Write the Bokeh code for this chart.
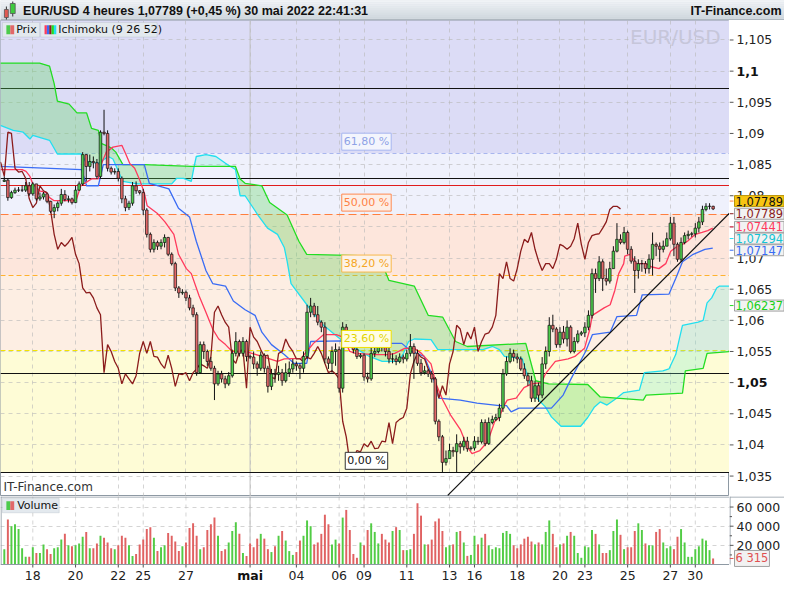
from bokeh.plotting import figure
from bokeh.layouts import column, row
from bokeh.models import (Range1d, FixedTicker, Label, BoxAnnotation, Span, ColumnDataSource)
from bokeh.core.properties import value
from bokeh.embed import file_html
from bokeh.resources import INLINE

# ------------------------------------------------------------------ data
TITLE = "EUR/USD 4 heures 1,07789 (+0,45 %) 30 mai 2022 22:41:31"
OPEN_FIRST = 1.0823
CLOSE = [
    1.0825, 1.0797, 1.0805, 1.0809, 1.0809, 1.0809, 1.0816, 1.0803, 1.0819, 1.0795,
    1.0798, 1.0803, 1.0791, 1.0775, 1.0781, 1.0788, 1.0802, 1.0794, 1.0795, 1.0789,
    1.0809, 1.0819, 1.0866, 1.0847, 1.0855, 1.0853, 1.0831, 1.0902, 1.0900, 1.0844,
    1.0838, 1.0839, 1.0828, 1.0795, 1.0781, 1.0788, 1.0816, 1.0808, 1.0805, 1.0777,
    1.0738, 1.0714, 1.0725, 1.0719, 1.0725, 1.0733, 1.0706, 1.0691, 1.0652, 1.0644,
    1.0645, 1.0636, 1.0620, 1.0609, 1.0516, 1.0561, 1.0550, 1.0534, 1.0523, 1.0498,
    1.0514, 1.0506, 1.0498, 1.0511, 1.0547, 1.0566, 1.0547, 1.0566, 1.0542, 1.0541,
    1.0530, 1.0523, 1.0544, 1.0523, 1.0494, 1.0514, 1.0513, 1.0516, 1.0503, 1.0516,
    1.0522, 1.0530, 1.0527, 1.0523, 1.0542, 1.0613, 1.0623, 1.0609, 1.0597, 1.0589,
    1.0538, 1.0531, 1.0550, 1.0553, 1.0491, 1.0589, 1.0573, 1.0566, 1.0553, 1.0542,
    1.0544, 1.0509, 1.0506, 1.0547, 1.0550, 1.0570, 1.0558, 1.0550, 1.0538, 1.0538,
    1.0534, 1.0541, 1.0538, 1.0547, 1.0558, 1.0547, 1.0531, 1.0516, 1.0519, 1.0514,
    1.0506, 1.0438, 1.0413, 1.0372, 1.0378, 1.0391, 1.0389, 1.0402, 1.0397, 1.0406,
    1.0394, 1.0395, 1.0406, 1.0405, 1.0436, 1.0402, 1.0436, 1.0441, 1.0444, 1.0459,
    1.0514, 1.0534, 1.0547, 1.0541, 1.0538, 1.0522, 1.0511, 1.0503, 1.0475, 1.0495,
    1.0480, 1.0530, 1.0550, 1.0592, 1.0586, 1.0561, 1.0581, 1.0570, 1.0589, 1.0550,
    1.0566, 1.0578, 1.0580, 1.0589, 1.0608, 1.0675, 1.0667, 1.0694, 1.0667, 1.0663,
    1.0683, 1.0711, 1.0730, 1.0725, 1.0741, 1.0714, 1.0695, 1.0680, 1.0691, 1.0691,
    1.0683, 1.0698, 1.0722, 1.0719, 1.0714, 1.0719, 1.0731, 1.0756, 1.0722, 1.0698,
    1.0725, 1.0736, 1.0738, 1.0739, 1.0748, 1.0758, 1.0778, 1.0783, 1.0783, 1.07789,
]
HIGH = [
    1.0831, 1.0828, 1.0808, 1.0813, 1.0814, 1.0817, 1.0822, 1.0822, 1.0822, 1.0819,
    1.0805, 1.0806, 1.0803, 1.0792, 1.0786, 1.0791, 1.0811, 1.0809, 1.0800, 1.0797,
    1.0816, 1.0823, 1.0870, 1.0867, 1.0866, 1.0863, 1.0859, 1.0905, 1.0938, 1.0905,
    1.0847, 1.0844, 1.0844, 1.0831, 1.0800, 1.0792, 1.0822, 1.0823, 1.0809, 1.0811,
    1.0780, 1.0741, 1.0730, 1.0728, 1.0730, 1.0738, 1.0734, 1.0709, 1.0694, 1.0655,
    1.0650, 1.0648, 1.0641, 1.0625, 1.0613, 1.0566, 1.0566, 1.0553, 1.0541, 1.0527,
    1.0519, 1.0519, 1.0511, 1.0517, 1.0553, 1.0581, 1.0569, 1.0573, 1.0569, 1.0545,
    1.0550, 1.0534, 1.0550, 1.0547, 1.0527, 1.0522, 1.0522, 1.0527, 1.0522, 1.0531,
    1.0534, 1.0538, 1.0534, 1.0531, 1.0550, 1.0625, 1.0636, 1.0628, 1.0623, 1.0600,
    1.0597, 1.0542, 1.0558, 1.0563, 1.0558, 1.0597, 1.0594, 1.0581, 1.0573, 1.0558,
    1.0547, 1.0547, 1.0516, 1.0558, 1.0556, 1.0581, 1.0573, 1.0566, 1.0558, 1.0547,
    1.0544, 1.0547, 1.0545, 1.0553, 1.0578, 1.0563, 1.0553, 1.0538, 1.0527, 1.0522,
    1.0519, 1.0509, 1.0441, 1.0416, 1.0391, 1.0402, 1.0397, 1.0417, 1.0406, 1.0413,
    1.0413, 1.0398, 1.0414, 1.0413, 1.0441, 1.0441, 1.0444, 1.0447, 1.0450, 1.0466,
    1.0522, 1.0542, 1.0555, 1.0553, 1.0547, 1.0542, 1.0531, 1.0516, 1.0511, 1.0503,
    1.0500, 1.0541, 1.0558, 1.0605, 1.0609, 1.0589, 1.0589, 1.0591, 1.0600, 1.0592,
    1.0573, 1.0584, 1.0583, 1.0597, 1.0616, 1.0683, 1.0683, 1.0703, 1.0698, 1.0683,
    1.0694, 1.0719, 1.0756, 1.0738, 1.0750, 1.0744, 1.0719, 1.0703, 1.0698, 1.0697,
    1.0695, 1.0706, 1.0741, 1.0725, 1.0725, 1.0728, 1.0741, 1.0766, 1.0766, 1.0725,
    1.0733, 1.0741, 1.0744, 1.0742, 1.0756, 1.0766, 1.0784, 1.0788, 1.0788, 1.0784,
]
LOW = [
    1.0822, 1.0792, 1.0795, 1.0803, 1.0806, 1.0806, 1.0806, 1.0800, 1.0800, 1.0792,
    1.0792, 1.0794, 1.0788, 1.0772, 1.0764, 1.0775, 1.0784, 1.0791, 1.0789, 1.0786,
    1.0788, 1.0808, 1.0816, 1.0823, 1.0839, 1.0844, 1.0827, 1.0827, 1.0897, 1.0839,
    1.0834, 1.0834, 1.0823, 1.0788, 1.0775, 1.0777, 1.0784, 1.0803, 1.0802, 1.0769,
    1.0733, 1.0709, 1.0709, 1.0713, 1.0714, 1.0717, 1.0703, 1.0688, 1.0647, 1.0636,
    1.0641, 1.0631, 1.0616, 1.0605, 1.0511, 1.0514, 1.0538, 1.0527, 1.0519, 1.0472,
    1.0495, 1.0500, 1.0491, 1.0495, 1.0508, 1.0542, 1.0542, 1.0542, 1.0534, 1.0538,
    1.0522, 1.0511, 1.0519, 1.0516, 1.0484, 1.0488, 1.0500, 1.0503, 1.0495, 1.0500,
    1.0509, 1.0516, 1.0519, 1.0506, 1.0516, 1.0538, 1.0605, 1.0605, 1.0592, 1.0581,
    1.0531, 1.0522, 1.0516, 1.0527, 1.0484, 1.0484, 1.0569, 1.0558, 1.0547, 1.0538,
    1.0539, 1.0503, 1.0500, 1.0503, 1.0541, 1.0547, 1.0550, 1.0542, 1.0531, 1.0531,
    1.0528, 1.0531, 1.0531, 1.0534, 1.0542, 1.0506, 1.0527, 1.0511, 1.0513, 1.0509,
    1.0500, 1.0433, 1.0406, 1.0355, 1.0367, 1.0378, 1.0381, 1.0355, 1.0386, 1.0391,
    1.0389, 1.0391, 1.0391, 1.0400, 1.0402, 1.0398, 1.0400, 1.0433, 1.0438, 1.0438,
    1.0453, 1.0511, 1.0531, 1.0534, 1.0531, 1.0519, 1.0506, 1.0495, 1.0469, 1.0469,
    1.0469, 1.0475, 1.0522, 1.0542, 1.0581, 1.0556, 1.0556, 1.0563, 1.0558, 1.0547,
    1.0547, 1.0563, 1.0575, 1.0573, 1.0584, 1.0603, 1.0644, 1.0663, 1.0647, 1.0656,
    1.0659, 1.0683, 1.0709, 1.0722, 1.0722, 1.0706, 1.0691, 1.0644, 1.0667, 1.0678,
    1.0675, 1.0675, 1.0672, 1.0703, 1.0694, 1.0709, 1.0719, 1.0728, 1.0703, 1.0694,
    1.0694, 1.0722, 1.0730, 1.0734, 1.0733, 1.0741, 1.0753, 1.0775, 1.0778, 1.0777,
]
VOLUME_K = [
    16, 47, 40, 42, 37, 17, 8, 8, 18, 12, 12, 21, 16, 11, 17, 18, 26, 32, 20, 19,
    20, 22, 29, 34, 17, 17, 22, 30, 28, 23, 17, 16, 20, 30, 28, 20, 9, 11, 21, 26,
    37, 39, 28, 14, 18, 20, 33, 30, 24, 14, 19, 23, 38, 43, 30, 16, 18, 36, 42, 49,
    30, 14, 16, 23, 35, 44, 32, 12, 9, 22, 18, 27, 32, 27, 16, 13, 19, 30, 35, 25,
    14, 10, 13, 25, 30, 46, 40, 21, 23, 32, 52, 42, 21, 26, 22, 49, 57, 36, 11, 7,
    23, 20, 36, 43, 34, 22, 32,
    26, 23, 35, 39, 36, 15, 15, 16, 32, 64, 51, 21, 21, 26, 45, 48, 35, 18, 20, 21,
    34, 35, 23, 9, 10, 30, 21, 28, 32, 20, 16, 18, 17, 33, 35, 32, 20, 17, 21, 27,
    29, 24, 21, 23, 21, 34, 46, 32, 18, 21, 22, 30, 34, 30, 12, 7, 19, 18, 36, 32,
    21, 12, 12, 15, 35, 47, 31, 16, 18, 18, 35, 43, 36, 22, 20, 20, 34, 37, 23, 17,
    19, 16, 29, 37, 23, 8, 8, 16, 19, 27, 25, 15, 6.315,
]
X_TICK_POS = [8, 20, 32, 39, 51, 69, 82, 94, 101, 113, 125, 132, 144, 156, 163, 175, 187, 194]
X_TICK_LABELS = ["18", "20", "22", "25", "27", "mai", "04", "06", "09", "11", "13", "16",
                 "18", "20", "23", "25", "27", "30"]
X_TICK_BOLD = ["mai"]
MONTH_START = 69
Y_TICKS = [1.035, 1.04, 1.045, 1.05, 1.055, 1.06, 1.065, 1.07, 1.075, 1.08, 1.085, 1.09,
           1.095, 1.1, 1.105]
Y_BOLD = [1.1, 1.05]
VOL_TICKS = [20000, 40000, 60000]
VOL_MINOR = [10000, 30000, 50000]

TENKAN = [(-1.1, 1.0842), (5.0, 1.0842), (6.1, 1.0839), (7.2, 1.0831), (8.0, 1.0819), (9.9, 1.0808),
          (11.8, 1.0805), (12.7, 1.0797), (14.0, 1.0792), (20.1, 1.0792), (21.5, 1.0816), (24.5, 1.0827),
          (26.4, 1.0827), (27.2, 1.0850), (28.6, 1.0870), (30.5, 1.0878), (33.0, 1.0881), (34.1, 1.0867),
          (35.2, 1.0852), (36.6, 1.0844), (37.9, 1.0827), (39.3, 1.0805), (40.1, 1.0784), (42.9, 1.0772),
          (45.1, 1.0758), (47.6, 1.0738), (48.9, 1.0706), (51.1, 1.0683), (52.5, 1.0675), (54.7, 1.0639),
          (56.6, 1.0613), (58.5, 1.0586), (60.2, 1.0570), (62.1, 1.0561), (64.0, 1.0550), (67.6, 1.0550),
          (69.5, 1.0547), (72.3, 1.0542), (76.7, 1.0534), (78.6, 1.0538), (83.3, 1.0539), (84.9, 1.0550),
          (86.8, 1.0563), (89.6, 1.0577), (93.2, 1.0577), (95.1, 1.0573), (97.0, 1.0550), (98.6, 1.0547),
          (104.1, 1.0545), (108.0, 1.0545), (109.6, 1.0547), (112.4, 1.0555), (115.1, 1.0555),
          (117.1, 1.0547), (119.8, 1.0530), (121.2, 1.0498), (123.1, 1.0472), (125.3, 1.0448),
          (128.0, 1.0425), (130.0, 1.0397), (131.3, 1.0386), (133.5, 1.0391), (135.7, 1.0405),
          (137.7, 1.0438), (139.0, 1.0444), (139.9, 1.0459), (141.2, 1.0472), (143.7, 1.0475),
          (145.9, 1.0492), (148.1, 1.0498), (150.8, 1.0500), (151.9, 1.0514), (154.7, 1.0534),
          (158.3, 1.0538), (160.2, 1.0542), (162.9, 1.0555), (164.3, 1.0584), (165.1, 1.0608),
          (167.3, 1.0616), (168.4, 1.0620), (170.1, 1.0625), (171.4, 1.0648), (172.5, 1.0675),
          (173.9, 1.0691), (174.2, 1.0703), (175.6, 1.0706), (177.5, 1.0691), (180.2, 1.0691),
          (181.6, 1.0686), (183.8, 1.0683), (185.7, 1.0691), (187.1, 1.0711), (188.5, 1.0717),
          (190.4, 1.0722), (191.8, 1.0727), (194.0, 1.0738), (195.9, 1.0741), (197.5, 1.0744),
          (198.9, 1.0748)]
KIJUN = [(-1.1, 1.0847), (21.7, 1.0842), (23.1, 1.0816), (26.4, 1.0816), (27.8, 1.0850), (39.3, 1.0850),
         (40.7, 1.0820), (46.2, 1.0811), (48.9, 1.0780), (52.0, 1.0766), (53.9, 1.0727), (56.6, 1.0680),
         (58.5, 1.0659), (62.1, 1.0655), (64.3, 1.0631), (67.6, 1.0617), (70.4, 1.0608), (72.3, 1.0581),
         (75.0, 1.0561), (78.6, 1.0545), (81.3, 1.0531), (84.9, 1.0531), (86.0, 1.0566), (94.3, 1.0567),
         (105.2, 1.0563), (111.6, 1.0563), (114.3, 1.0550), (117.9, 1.0542), (120.4, 1.0508),
         (122.0, 1.0475), (128.0, 1.0472), (132.7, 1.0467), (139.0, 1.0463), (141.0, 1.0463),
         (142.3, 1.0453), (144.5, 1.0459), (150.8, 1.0459), (153.6, 1.0459), (156.9, 1.0480),
         (159.1, 1.0506), (163.2, 1.0550), (165.1, 1.0577), (170.1, 1.0581), (172.0, 1.0606),
         (177.5, 1.0608), (179.1, 1.0641), (186.6, 1.0642), (188.5, 1.0667), (190.4, 1.0694),
         (193.4, 1.0706), (196.7, 1.0714), (198.9, 1.0716)]
SENKOU_A = [(-1.1, 1.0913), (2.5, 1.0905), (5.3, 1.0902), (7.2, 1.0891), (8.0, 1.0897), (12.7, 1.0889),
            (14.9, 1.0867), (21.7, 1.0867), (22.8, 1.0855), (26.4, 1.0852), (29.2, 1.0863), (30.5, 1.0859),
            (33.3, 1.0823), (37.4, 1.0819), (47.0, 1.0819), (48.4, 1.0828), (50.3, 1.0828), (52.5, 1.0823),
            (53.3, 1.0847), (53.9, 1.0863), (56.6, 1.0866), (59.4, 1.0863), (62.1, 1.0852), (63.5, 1.0847),
            (64.9, 1.0842), (66.2, 1.0800), (67.6, 1.0800), (71.2, 1.0769), (73.9, 1.0748), (76.7, 1.0738),
            (78.6, 1.0717), (79.4, 1.0695), (80.5, 1.0659), (86.0, 1.0617), (89.6, 1.0592), (94.3, 1.0570),
            (98.6, 1.0555), (102.5, 1.0542), (106.1, 1.0534), (110.7, 1.0534), (112.1, 1.0547),
            (113.5, 1.0566), (115.1, 1.0570), (119.8, 1.0569), (121.7, 1.0553), (134.4, 1.0553),
            (137.1, 1.0558), (139.0, 1.0553), (140.4, 1.0542), (145.4, 1.0539), (147.3, 1.0503),
            (149.2, 1.0477), (151.9, 1.0461), (153.6, 1.0445), (156.3, 1.0430), (161.8, 1.0430),
            (163.8, 1.0444), (165.7, 1.0461), (167.3, 1.0469), (169.2, 1.0464), (171.2, 1.0472),
            (171.9, 1.0475), (173.9, 1.0484), (178.3, 1.0488), (179.7, 1.0516), (184.9, 1.0519),
            (186.6, 1.0522), (188.5, 1.0545), (190.4, 1.0592), (194.8, 1.0597), (196.2, 1.0600),
            (197.3, 1.0628), (198.6, 1.0636), (200.0, 1.0652), (200.8, 1.0655), (204.0, 1.0655)]
SENKOU_B = [(-1.1, 1.1013), (9.9, 1.1013), (12.7, 1.1008), (14.0, 1.0980), (14.9, 1.0952), (18.2, 1.0947),
            (20.4, 1.0933), (23.1, 1.0933), (24.5, 1.0908), (26.4, 1.0905), (27.2, 1.0884), (30.0, 1.0877),
            (31.3, 1.0870), (33.3, 1.0850), (39.3, 1.0850), (52.5, 1.0847), (53.3, 1.0847), (63.5, 1.0847),
            (64.9, 1.0847), (66.2, 1.0827), (67.6, 1.0820), (72.3, 1.0816), (74.5, 1.0789), (79.4, 1.0769),
            (82.7, 1.0727), (84.9, 1.0706), (105.2, 1.0703), (108.0, 1.0664), (115.1, 1.0655),
            (119.0, 1.0608), (123.1, 1.0605), (126.7, 1.0566), (130.0, 1.0558), (146.4, 1.0563),
            (149.2, 1.0503), (152.8, 1.0498), (163.8, 1.0497), (167.3, 1.0477), (171.9, 1.0475),
            (179.4, 1.0472), (180.2, 1.0480), (190.4, 1.0483), (191.2, 1.0519), (196.2, 1.0523),
            (197.3, 1.0547), (204.0, 1.0550)]
CLOUD_CROSS = [53.3, 63.5, 171.9]
CHIKOU_SHIFT = 26

FIB_LOW, FIB_HIGH = 1.0356, 1.1185
FIB_PCTS = [0.0, 23.6, 38.2, 50.0, 61.8]
FIB_TEXT = ["0,00 %", "23,60 %", "38,20 %", "50,00 %", "61,80 %"]
LINES_BLACK = [1.0972, 1.08275, 1.0514]
LINE_RED = 1.0817
TREND_K = [124.5, 203.6]
TREND_V = [1.0319, 1.0772]

LAST_PRICE = 1.07789
NOW_TENKAN, NOW_SSA, NOW_KIJUN, NOW_SSB = 1.07441, 1.07294, 1.07147, 1.06237
LAST_VOL = 6315

# ------------------------------------------------------------------ geometry / style
FRAME_W, AXIS_W = 729, 55
W = FRAME_W + AXIS_W
HEAD_H, MAIN_H = 20, 476
VOL_FRAME_H, VOL_AX_H = 68, 20
VOL_H = VOL_FRAME_H + VOL_AX_H
X0, X1 = -1.07, 203.6
Y0, Y1 = 1.03172, 1.10813
V1 = 71000
VPX = V1 / float(VOL_FRAME_H)       # volume units per screen pixel
VB = -VOL_AX_H * VPX
FONT = "DejaVu Sans"
HFONT = "Liberation Sans"
FRAME_COL = "#8e99a3"

GREEN, RED = "#4ccb4c", "#e26868"
C_TENKAN, C_KIJUN, C_CHIKOU = "#ff3a5c", "#3a6cf4", "#8b1c1c"
C_SSA, C_SSB = "#22dfef", "#22dd22"


def mx(px):
    return X0 + px / 745.0 * (X1 - X0)


def my(py):
    return Y1 - (py - 20) / 489.0 * (Y1 - Y0)


def vy(py):
    return (580 - py) / 71.0 * V1


def price_label(t):
    return ("%.3f" % t).rstrip("0").rstrip(".").replace(".", ",")


def tag_label(t):
    return ("%.5f" % t).replace(".", ",")


def vol_label(t):
    return "{:,}".format(int(t)).replace(",", " ")


def blank(fig):
    fig.xgrid.visible = False
    fig.ygrid.visible = False


xr = Range1d(X0, X1)
yr = Range1d(Y0, Y1)
vr = Range1d(VB, V1)
N = len(CLOSE)
K = list(range(N))
OPEN = [OPEN_FIRST] + CLOSE[:-1]
UP = [c >= o for o, c in zip(OPEN, CLOSE)]

# ------------------------------------------------------------------ header
head = figure(width=W, height=HEAD_H, x_range=Range1d(0, 800), y_range=Range1d(20, 0),
              output_backend="svg", toolbar_location=None, min_border=0,
              x_axis_location=None, y_axis_location=None, outline_line_color=None,
              background_fill_color="#dde3e8", border_fill_color="#dde3e8")
blank(head)
top_rgb, bot_rgb = (240, 243, 246), (205, 213, 220)
nb = 10
for j in range(nb):
    t = j / (nb - 1)
    col = "#%02x%02x%02x" % tuple(int(a + (b - a) * t) for a, b in zip(top_rgb, bot_rgb))
    head.quad(left=0, right=800, top=j * 2, bottom=j * 2 + 2, fill_color=col, line_color=None)
head.segment(x0=0, y0=19.5, x1=800, y1=19.5, line_color=FRAME_COL, line_width=1)
head.segment(x0=[6, 12.5], y0=[6, 1], x1=[6, 12.5], y1=[19, 16], line_color="#333333", line_width=1)
head.quad(left=[4, 10], right=[8, 15], top=[9, 3], bottom=[17, 13],
          fill_color=["#e05a52", "#3ecb3e"], line_color="#555555", line_width=0.8)
head.add_layout(Label(x=23, y=10.5, text=TITLE, text_baseline="middle", text_font=HFONT,
                      text_font_size="12.5px", text_font_style="bold", text_color="#111111"))
head.add_layout(Label(x=797, y=10.5, text="IT-Finance.com", text_align="right", text_baseline="middle",
                      text_font=HFONT, text_font_size="12.5px", text_font_style="bold",
                      text_color="#111111"))

# ------------------------------------------------------------------ main panel
p = figure(width=FRAME_W, height=MAIN_H, x_range=xr, y_range=yr, output_backend="svg",
           toolbar_location=None, x_axis_location=None, y_axis_location=None, min_border=0,
           outline_line_color=FRAME_COL, background_fill_color="white", border_fill_color="white")
p.xgrid.ticker = FixedTicker(ticks=X_TICK_POS)
p.ygrid.ticker = FixedTicker(ticks=Y_TICKS)
for g in (p.xgrid, p.ygrid):
    g.grid_line_color = "#b8b8b8"
    g.grid_line_dash = "4 4"
    g.grid_line_alpha = 0.6

# fibonacci zones
fib = [FIB_LOW + pc / 100.0 * (FIB_HIGH - FIB_LOW) for pc in FIB_PCTS]
zone_bottom = fib
zone_top = fib[1:] + [Y1 + 0.01]
ZONE_COLORS = ["#fefcd6", "#fdeee3", "#fde6dc", "#eff1fc", "#dcdcf6"]
p.quad(left=X0 - 5, right=X1 + 5, bottom=zone_bottom, top=zone_top, fill_color=ZONE_COLORS,
       line_color=None, level="image")
p.add_layout(Span(location=MONTH_START, dimension="height", line_color="#c0c0c0", line_width=1,
                  level="underlay"))

# horizontal levels
p.hspan(y=LINES_BLACK, line_color="#111111", line_width=1)
p.hspan(y=[LINE_RED], line_color="#e01c1c", line_width=1)
FIB_LINE = [("#111111", "solid"), ("#f2e400", "5 3"), ("#ffb22e", "5 3"), ("#ff7f3f", "8 4"),
            ("#a8b6ee", "4 3")]
for lvl, (col, dash) in zip(fib, FIB_LINE):
    p.hspan(y=[lvl], line_color=col, line_width=1.2, line_dash=dash)

# ichimoku cloud
bounds = [SENKOU_A[0][0]] + CLOUD_CROSS + [SENKOU_A[-1][0]]
cxs, cys, ccol, calpha = [], [], [], []
for a, b in zip(bounds[:-1], bounds[1:]):
    pa = [(x, y) for x, y in SENKOU_A if a - 1e-9 <= x <= b + 1e-9]
    pb = [(x, y) for x, y in SENKOU_B if a - 1e-9 <= x <= b + 1e-9]
    cxs.append([x for x, _ in pa] + [x for x, _ in pb][::-1])
    cys.append([y for _, y in pa] + [y for _, y in pb][::-1])
    a_above = sum(y for _, y in pa) / len(pa) > sum(y for _, y in pb) / len(pb)
    ccol.append("#6fe6cf" if a_above else "#5cd65c")
    calpha.append(0.26 if a_above else 0.32)
p.patches(xs=cxs, ys=cys, fill_color=ccol, fill_alpha=calpha, line_color=None)
p.line([x for x, _ in SENKOU_A], [y for _, y in SENKOU_A], line_color=C_SSA, line_width=1.3)
p.line([x for x, _ in SENKOU_B], [y for _, y in SENKOU_B], line_color=C_SSB, line_width=1.3)
p.line([x for x, _ in KIJUN], [y for _, y in KIJUN], line_color=C_KIJUN, line_width=1.3)
p.line([x for x, _ in TENKAN], [y for _, y in TENKAN], line_color=C_TENKAN, line_width=1.3)
p.line([k - CHIKOU_SHIFT for k in K], CLOSE, line_color=C_CHIKOU, line_width=1.3)
p.line(TREND_K, TREND_V, line_color="#111111", line_width=1.2)

# candles
src = ColumnDataSource(dict(
    k=K, o=OPEN, c=CLOSE, h=HIGH, l=LOW,
    bot=[min(o, c) for o, c in zip(OPEN, CLOSE)],
    top=[max(o, c) for o, c in zip(OPEN, CLOSE)],
    col=[GREEN if u else RED for u in UP],
))
p.segment(x0="k", y0="l", x1="k", y1="h", source=src, line_color="#111111", line_width=1)
p.vbar(x="k", bottom="bot", top="top", width=0.72, source=src, fill_color="col",
       line_color="#111111", line_width=0.7)

# fib labels
FIB_STYLE = [("#111111", "#333333", "#ffffff"), ("#e2d400", "#f0e000", "#fffde4"),
             ("#f5a623", "#f8b84a", "#fdf2e8"), ("#ff8245", "#ff8a50", "#fdeee6"),
             ("#8ea2e6", "#a6b6f0", "#f3f5fd")]
for lvl, txt, (tc, bc, bg) in zip(fib, FIB_TEXT, FIB_STYLE):
    p.add_layout(Label(x=mx(374), y=lvl, y_offset=3, text=txt, text_align="center",
                       text_baseline="bottom", text_font=FONT, text_font_size="11px",
                       text_color=tc, background_fill_color=bg, border_line_color=bc,
                       border_line_width=1, padding=2))

# legend boxes
p.add_layout(BoxAnnotation(left=mx(2), right=mx(40), top=my(22), bottom=my(37),
                           fill_color="#e3e9ee", fill_alpha=1, line_color="#a5b0ba", line_width=1))
p.add_layout(BoxAnnotation(left=mx(41), right=mx(160), top=my(22), bottom=my(37),
                           fill_color="#e3e9ee", fill_alpha=1, line_color="#a5b0ba", line_width=1))
for l, r, col in [(6, 10, GREEN), (10, 14, RED)]:
    p.add_layout(BoxAnnotation(left=mx(l), right=mx(r), top=my(25), bottom=my(34),
                               fill_color=col, fill_alpha=1, line_color=None))
for j, col in enumerate([C_TENKAN, C_KIJUN, C_CHIKOU, C_SSB, C_SSA]):
    p.add_layout(BoxAnnotation(left=mx(45 + 2.4 * j), right=mx(47.4 + 2.4 * j), top=my(25),
                               bottom=my(34), fill_color=col, fill_alpha=1, line_color=None))
p.add_layout(Label(x=mx(16), y=my(29.5), text="Prix", text_baseline="middle", text_font=FONT,
                   text_font_size="11px", text_color="#111111"))
p.add_layout(Label(x=mx(59), y=my(29.5), text="Ichimoku (9 26 52)", text_baseline="middle",
                   text_font=FONT, text_font_size="11px", text_color="#111111"))

# watermark / source
p.add_layout(Label(x=mx(736), y=my(37), text="EUR/USD", text_align="right", text_baseline="middle",
                   text_font=FONT, text_font_size="20px", text_color="#c6c6da"))
p.add_layout(Label(x=mx(3), y=my(499), text="IT-Finance.com", text_baseline="middle",
                   text_font=FONT, text_font_size="12px", text_color="#333333"))

# ------------------------------------------------------------------ main price axis (own panel)
pax = figure(width=AXIS_W, height=MAIN_H, x_range=Range1d(0, AXIS_W), y_range=yr,
             output_backend="svg", toolbar_location=None, x_axis_location=None,
             y_axis_location=None, min_border=0, outline_line_color=None,
             background_fill_color="white", border_fill_color="white")
blank(pax)
pax.segment(x0=0, y0=Y_TICKS, x1=4, y1=Y_TICKS, line_color="#555555", line_width=1)
norm = [t for t in Y_TICKS if all(abs(t - b) > 1e-9 for b in Y_BOLD)]
pax.text(x=7, y=norm, text=[price_label(t) for t in norm], text_baseline="middle",
         text_font=value(FONT), text_font_size="12.5px", text_color="#222222")
pax.text(x=7, y=Y_BOLD, text=[price_label(t) for t in Y_BOLD], text_baseline="middle",
         text_font=value(FONT), text_font_size="12.5px", text_font_style="bold",
         text_color="#111111")

TAGS = [
    (my(205.5), LAST_PRICE, "#111111", "#f8c512", "#b8940a", "#ff7f3f"),
    (my(218.5), LAST_PRICE, C_CHIKOU, "#f2f2f2", "#a0a0a0", C_CHIKOU),
    (my(232), NOW_TENKAN, C_TENKAN, "#f2f2f2", "#a0a0a0", C_TENKAN),
    (my(244), NOW_SSA, "#14c4d4", "#f2f2f2", "#a0a0a0", C_SSA),
    (my(256), NOW_KIJUN, C_KIJUN, "#f2f2f2", "#a0a0a0", C_KIJUN),
    (NOW_SSB, NOW_SSB, "#18d018", "#f2f2f2", "#a0a0a0", C_SSB),
]
for ypos, val, tc, bg, bc, lc in TAGS:
    pax.segment(x0=0, y0=ypos, x1=4, y1=ypos, line_color=lc, line_width=1)
    pax.add_layout(Label(x=5, y=ypos, text=tag_label(val), text_baseline="middle", text_font=FONT,
                         text_font_size="11.5px", text_color=tc, background_fill_color=bg,
                         border_line_color=bc, border_line_width=1, padding=1))

# ------------------------------------------------------------------ volume panel
vol = figure(width=FRAME_W, height=VOL_H, x_range=xr, y_range=vr, output_backend="svg",
             toolbar_location=None, x_axis_location=None, y_axis_location=None, min_border=0,
             outline_line_color=None, background_fill_color="white", border_fill_color="white")
vol.xgrid.visible = False
vol.ygrid.ticker = FixedTicker(ticks=VOL_TICKS)
vol.ygrid.grid_line_color = "#b8b8b8"
vol.ygrid.grid_line_dash = "4 4"
vol.ygrid.grid_line_alpha = 0.6
vol.segment(x0=X_TICK_POS, y0=0, x1=X_TICK_POS, y1=V1, line_color="#b8b8b8", line_alpha=0.6,
            line_dash="4 4", line_width=1)
vol.segment(x0=MONTH_START, y0=0, x1=MONTH_START, y1=V1, line_color="#c0c0c0", line_width=1)
VOLUME = [v * 1000 for v in VOLUME_K]
vsrc = ColumnDataSource(dict(k=K, v=VOLUME, col=["#52cc45" if u else "#e06262" for u in UP]))
vol.vbar(x="k", top="v", width=0.55, source=vsrc, fill_color="col", line_color=None)
# frame lines and time axis
vol.segment(x0=X0, y0=[0, V1 - 0.5 * VPX], x1=X1, y1=[0, V1 - 0.5 * VPX], line_color=FRAME_COL,
            line_width=1)
vol.segment(x0=X0 + 0.15, y0=0, x1=X0 + 0.15, y1=V1, line_color=FRAME_COL, line_width=1)
vol.segment(x0=X_TICK_POS, y0=0, x1=X_TICK_POS, y1=-3 * VPX, line_color="#555555", line_width=1)
xn = [(k, lab) for k, lab in zip(X_TICK_POS, X_TICK_LABELS) if lab not in X_TICK_BOLD]
xb = [(k, lab) for k, lab in zip(X_TICK_POS, X_TICK_LABELS) if lab in X_TICK_BOLD]
vol.text(x=[k for k, _ in xn], y=-11 * VPX, text=[lab for _, lab in xn], text_align="center",
         text_baseline="middle", text_font=value(FONT), text_font_size="12.5px",
         text_color="#222222")
vol.text(x=[k for k, _ in xb], y=-11 * VPX, text=[lab for _, lab in xb], text_align="center",
         text_baseline="middle", text_font=value(FONT), text_font_size="12.5px",
         text_font_style="bold", text_color="#111111")
# legend
vol.add_layout(BoxAnnotation(left=mx(2), right=mx(60), top=vy(511), bottom=vy(526),
                             fill_color="#e3e9ee", fill_alpha=1, line_color="#a5b0ba", line_width=1))
for l, r, col in [(6, 10, GREEN), (10, 14, RED)]:
    vol.add_layout(BoxAnnotation(left=mx(l), right=mx(r), top=vy(514), bottom=vy(523),
                                 fill_color=col, fill_alpha=1, line_color=None))
vol.add_layout(Label(x=mx(17), y=vy(518.5), text="Volume", text_baseline="middle", text_font=FONT,
                     text_font_size="11px", text_color="#111111"))

# volume axis panel
vax = figure(width=AXIS_W, height=VOL_H, x_range=Range1d(0, AXIS_W), y_range=vr,
             output_backend="svg", toolbar_location=None, x_axis_location=None,
             y_axis_location=None, min_border=0, outline_line_color=None,
             background_fill_color="white", border_fill_color="white")
blank(vax)
vax.segment(x0=0.5, y0=0, x1=0.5, y1=V1, line_color=FRAME_COL, line_width=1)
vax.segment(x0=0, y0=V1 - 0.5 * VPX, x1=AXIS_W, y1=V1 - 0.5 * VPX, line_color=FRAME_COL, line_width=1)
vax.segment(x0=0, y0=VOL_TICKS, x1=4, y1=VOL_TICKS, line_color="#555555", line_width=1)
vax.segment(x0=0, y0=VOL_MINOR, x1=2.5, y1=VOL_MINOR, line_color="#555555", line_width=1)
vax.text(x=7, y=VOL_TICKS, text=[vol_label(t) for t in VOL_TICKS], text_baseline="middle",
         text_font=value(FONT), text_font_size="12.5px", text_color="#222222")
vax.segment(x0=0, y0=LAST_VOL, x1=4, y1=LAST_VOL, line_color="#e05050", line_width=1)
vax.add_layout(Label(x=5, y=LAST_VOL, text=vol_label(LAST_VOL), text_baseline="middle",
                     text_font=FONT, text_font_size="11.5px", text_color="#e05050",
                     background_fill_color="#f2f2f2", border_line_color="#a0a0a0",
                     border_line_width=1, padding=1))

layout = column(head, row(p, pax), row(vol, vax))
open("out.html", "w").write(file_html(layout, INLINE))
